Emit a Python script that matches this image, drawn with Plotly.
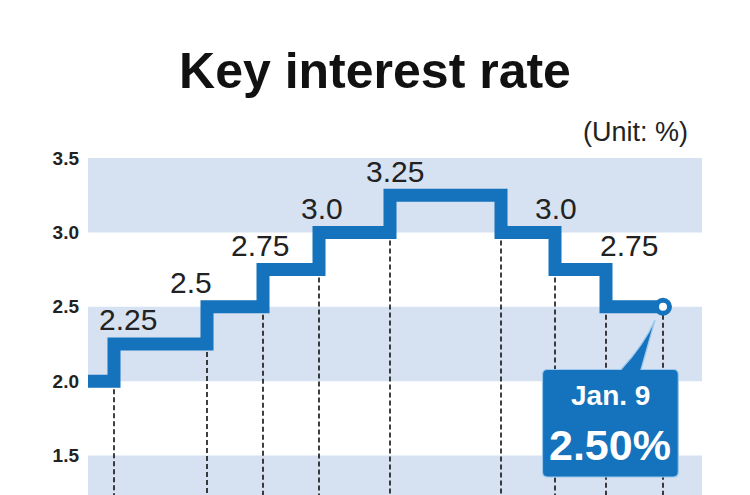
import plotly.graph_objects as go

# ---- data -------------------------------------------------------------
# Bank of Korea base rate, schematic (non-proportional) timeline
rates = [2.0, 2.25, 2.5, 2.75, 3.0, 3.25, 3.0, 2.75, 2.5, 2.5]
change_pos = [0, 26, 119, 175, 231, 302, 413, 467, 518, 575]  # position on timeline
label_text = ["2.25", "2.5", "2.75", "3.0", "3.25", "3.0", "2.75"]
label_val = [2.25, 2.5, 2.75, 3.0, 3.25, 3.0, 2.75]
label_pos = [40, 103, 172, 234, 307, 468, 541]
tick_vals = [1.5, 2.0, 2.5, 3.0, 3.5]
tick_text = ["1.5", "2.0", "2.5", "3.0", "3.5"]
band_ranges = [(3.0, 3.5), (2.0, 2.5), (1.0, 1.5)]
last_date = "Jan. 9"
last_rate = "2.50%"

BLUE = "#1572bc"
BAND = "#d6e1f1"
YMIN, YMAX = 1.2345, 3.5001

fig = go.Figure()

# dashed drop lines at each change and at the end
dx, dy = [], []
for i in range(1, len(rates)):
    low = min(rates[i - 1], rates[i])
    dx += [change_pos[i], change_pos[i], None]
    dy += [low, YMIN, None]
fig.add_trace(go.Scatter(x=dx, y=dy, mode="lines",
                         line=dict(color="#111111", width=1.6, dash="5px,3px"),
                         hoverinfo="skip", showlegend=False))

# step line
fig.add_trace(go.Scatter(x=change_pos, y=rates, mode="lines",
                         line=dict(color=BLUE, width=13, shape="hv"),
                         showlegend=False))

# end marker
fig.add_trace(go.Scatter(x=[change_pos[-1]], y=[rates[-1]], mode="markers",
                         marker=dict(symbol="circle", size=13, color="white",
                                     line=dict(color=BLUE, width=5)),
                         cliponaxis=False, showlegend=False))

# bands
shapes = []
for lo, hi in band_ranges:
    shapes.append(dict(type="rect", xref="paper", yref="y", x0=0, x1=1,
                       y0=lo, y1=hi, fillcolor=BAND, line=dict(width=0),
                       layer="below"))

# callout box (pixel -> data helpers)
ppu = 337 / (YMAX - YMIN)
def ydat(py):
    return YMAX - (py - 158) / ppu
x0, x1 = 454.5, 590.3
yt, yb = ydat(369.5), ydat(477)
rx, ry = 5, 5 / ppu
tipx, tipy = 567, ydat(320)
path = (f"M{x0+rx},{yt} L533,{yt} Q556,{ydat(345)} {tipx},{tipy} L553,{yt} "
        f"L{x1-rx},{yt} Q{x1},{yt} {x1},{yt-ry} L{x1},{yb+ry} Q{x1},{yb} {x1-rx},{yb} "
        f"L{x0+rx},{yb} Q{x0},{yb} {x0},{yb+ry} L{x0},{yt-ry} Q{x0},{yt} {x0+rx},{yt} Z")
shapes.append(dict(type="path", xref="x", yref="y", path=path, fillcolor=BLUE,
                   line=dict(color="#9cc8ee", width=1.2), layer="above"))

annotations = []
for t, v, p in zip(label_text, label_val, label_pos):
    annotations.append(dict(x=p, y=v, xref="x", yref="y", text=t, showarrow=False,
                            yshift=24, xanchor="center", yanchor="middle",
                            font=dict(family="Liberation Sans, Arial", size=30,
                                      color="#222222")))
annotations.append(dict(x=522, y=ydat(395), xref="x", yref="y", text=f"<b>{last_date}</b>",
                        showarrow=False, xanchor="center", yanchor="middle",
                        font=dict(family="Liberation Sans, Arial", size=28, color="white")))
annotations.append(dict(x=522, y=ydat(445), xref="x", yref="y", text=f"<b>{last_rate}</b>",
                        showarrow=False, xanchor="center", yanchor="middle",
                        font=dict(family="Liberation Sans, Arial", size=43, color="white")))
annotations.append(dict(x=(690 - 88) / 614, y=(495 - 132) / 337, xref="paper", yref="paper",
                        text="(Unit: %)", showarrow=False, xanchor="right", yanchor="middle",
                        font=dict(family="Liberation Sans, Arial", size=27, color="#222222")))

fig.update_layout(
    width=750, height=495,
    margin=dict(l=88, r=48, t=158, b=0, pad=0),
    paper_bgcolor="white", plot_bgcolor="white",
    title=dict(text="<b>Key interest rate</b>", x=0.5, xref="container", xanchor="center",
               y=1 - 70 / 495, yref="container", yanchor="middle",
               font=dict(family="Liberation Sans, Arial", size=50, color="#111111")),
    xaxis=dict(range=[0, 614], visible=False, showgrid=False, zeroline=False, fixedrange=True),
    yaxis=dict(range=[YMIN, YMAX], showgrid=False, zeroline=False, showline=False,
               tickvals=tick_vals, ticktext=tick_text, ticks="", ticklabelstandoff=8,
               tickfont=dict(family="Liberation Sans Narrow, Arial Narrow, Liberation Sans",
                             size=19, color="#222222", weight="bold"), fixedrange=True),
    shapes=shapes, annotations=annotations, showlegend=False,
)

fig.write_html("out.html")
